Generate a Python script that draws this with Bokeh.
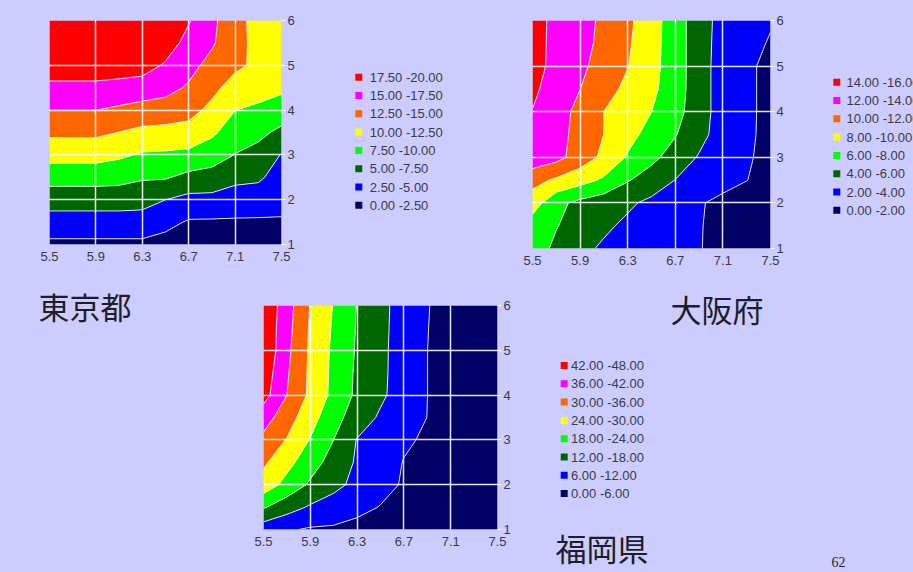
import numpy as np
from bokeh.plotting import figure
from bokeh.models import Range1d, FixedTicker, Label
from bokeh.layouts import column, row
from bokeh.embed import file_html
from bokeh.resources import INLINE
from bokeh.core.properties import value

BG = "#CCCCFF"
band_colors = ["#000066", "#0000FF", "#006600", "#00FF00", "#FFFF00", "#FF6600", "#FF00FF", "#FF0000"]

x_grid = [5.5, 5.7, 5.9, 6.1, 6.3, 6.5, 6.7, 6.9, 7.1, 7.3, 7.5]
y_grid = [1.0, 1.5, 2.0, 2.5, 3.0, 3.5, 4.0, 4.5, 5.0, 5.5, 6.0]
x_ticks = [5.5, 5.9, 6.3, 6.7, 7.1, 7.5]
y_ticks = [1, 2, 3, 4, 5, 6]

# Tokyo (rows: y = 1.0 ... 6.0, columns: x = 5.5 ... 7.5)
tokyo_levels = [0, 2.5, 5, 7.5, 10, 12.5, 15, 17.5, 20]
tokyo_labels = ["0.00 -2.50", "2.50 -5.00", "5.00 -7.50", "7.50 -10.00",
                "10.00 -12.50", "12.50 -15.00", "15.00 -17.50", "17.50 -20.00"]
tokyo_z = [
    [2.0, 2.0, 2.0, 2.0, 2.0, 1.53, 0.2, 0.1, 0.5, 0.53, 1.43],
    [3.95, 3.95, 3.95, 3.95, 3.95, 3.26, 2.25, 2.21, 2.2, 2.17, 2.29],
    [6.06, 6.06, 6.06, 6.06, 5.87, 5.01, 4.3, 4.29, 3.89, 3.82, 3.16],
    [8.49, 8.49, 8.49, 8.31, 7.77, 7.73, 6.83, 6.56, 5.62, 5.37, 4.02],
    [10.89, 10.89, 10.89, 10.41, 9.73, 9.62, 9.4, 8.64, 7.43, 6.7, 4.88],
    [12.98, 12.98, 12.98, 12.46, 11.89, 11.72, 11.61, 10.42, 8.74, 8.08, 6.95],
    [15.01, 15.01, 15.01, 14.58, 14.11, 13.95, 13.31, 11.9, 10.03, 9.53, 8.8],
    [16.92, 16.92, 16.92, 16.67, 16.34, 15.78, 14.72, 13.15, 11.52, 10.99, 10.5],
    [18.85, 18.85, 18.85, 18.75, 18.57, 17.21, 15.77, 14.24, 13.0, 12.0, 11.0],
    [19.8, 19.8, 19.8, 19.8, 19.8, 18.65, 16.73, 15.3, 13.3, 11.8, 11.3],
    [19.9, 19.9, 19.9, 19.9, 19.9, 19.9, 17.69, 15.5, 13.5, 11.5, 11.5],
]

# Osaka
osaka_levels = [0, 2, 4, 6, 8, 10, 12, 14, 16]
osaka_labels = ["0.00 -2.00", "2.00 -4.00", "4.00 -6.00", "6.00 -8.00",
                "8.00 -10.00", "10.00 -12.00", "12.00 -14.00", "14.00 -16.00"]
osaka_z = [
    [6.84, 5.64, 4.45, 3.74, 3.33, 2.91, 2.5, 2.08, 1.5, 1.2, 1.0],
    [7.0, 6.09, 5.2, 4.31, 3.66, 3.14, 2.62, 2.1, 1.5, 1.2, 1.0],
    [9.0, 6.5, 5.51, 4.89, 4.28, 3.61, 2.89, 2.18, 1.5, 1.2, 1.0],
    [10.67, 9.71, 8.76, 7.69, 6.15, 5.03, 3.97, 3.32, 2.68, 2.03, 1.4],
    [13.3, 12.6, 11.11, 9.55, 7.81, 6.52, 5.14, 3.84, 3.02, 2.2, 1.5],
    [13.2, 12.6, 11.43, 9.99, 8.62, 7.33, 6.12, 4.62, 3.1, 2.32, 1.5],
    [13.95, 12.79, 11.48, 9.99, 9.0, 8.01, 6.67, 4.89, 3.1, 2.36, 1.5],
    [14.35, 13.18, 12.02, 10.75, 9.56, 8.44, 6.91, 4.89, 3.1, 2.36, 1.5],
    [14.61, 13.5, 12.39, 11.24, 10.06, 8.64, 6.95, 4.89, 3.1, 2.36, 1.5],
    [14.56, 13.59, 12.61, 11.52, 10.25, 8.72, 6.95, 4.89, 3.2, 2.67, 1.83],
    [14.57, 13.62, 12.67, 11.64, 10.42, 8.82, 6.95, 4.89, 3.3, 2.88, 2.18],
]

# Fukuoka
fukuoka_levels = [0, 6, 12, 18, 24, 30, 36, 42, 48]
fukuoka_labels = ["0.00 -6.00", "6.00 -12.00", "12.00 -18.00", "18.00 -24.00",
                  "24.00 -30.00", "30.00 -36.00", "36.00 -42.00", "42.00 -48.00"]
fukuoka_z = [
    [8.6, 6.6, 5.4, 5.2, 4.3, 4.2, 4.0, 3.8, 3.6, 3.2, 3.0],
    [18.6, 14.6, 11.33, 9.43, 7.52, 5.8, 5.0, 4.5, 4.0, 3.3, 3.0],
    [27.5, 22.09, 17.12, 13.59, 10.47, 7.67, 5.5, 4.8, 4.2, 3.4, 3.0],
    [31.04, 25.83, 20.61, 15.6, 11.3, 8.51, 5.8, 5.0, 4.3, 3.4, 3.0],
    [34.5, 29.7, 23.71, 17.98, 11.75, 9.25, 6.75, 5.3, 4.5, 3.5, 3.0],
    [38.7, 32.7, 26.33, 20.1, 15.11, 11.2, 8.53, 5.95, 4.5, 3.5, 3.0],
    [44.28, 36.02, 28.74, 22.42, 16.84, 12.97, 9.43, 6.02, 4.5, 3.5, 3.0],
    [45.56, 36.67, 28.89, 22.62, 17.03, 13.16, 9.53, 6.02, 4.5, 3.5, 3.0],
    [47.04, 37.44, 29.05, 22.86, 17.38, 13.24, 9.53, 6.02, 4.5, 3.5, 3.0],
    [46.9, 38.0, 29.38, 23.27, 17.58, 13.37, 9.62, 6.09, 4.5, 3.5, 3.0],
    [47.1, 38.57, 29.7, 23.7, 17.79, 13.5, 9.71, 6.18, 4.5, 3.5, 3.0],
]

TICK_FONT = "Liberation Sans"
TEXT_COLOR = "#3a3a48"
TITLE_FONT = "Noto Sans CJK JP"
TITLE_COLOR = "#1e1e28"
LEGEND_STEP = 18.3


def style_bg(p):
    p.background_fill_color = BG
    p.border_fill_color = BG
    p.outline_line_color = None
    try:
        p.frame_align = False
    except Exception:
        pass


def make_plot(width, height, bl, br, bt, bb, z, levels):
    p = figure(width=width, height=height,
               x_range=Range1d(5.5, 7.5), y_range=Range1d(1, 6),
               min_border_left=bl, min_border_right=br,
               min_border_top=bt, min_border_bottom=bb,
               y_axis_location="right",
               output_backend="svg", toolbar_location=None)
    style_bg(p)
    p.contour(x=x_grid, y=y_grid, z=np.array(z), levels=levels,
              fill_color=band_colors, line_color="white",
              line_width=1, line_alpha=0.85)

    p.xaxis.ticker = FixedTicker(ticks=x_ticks)
    p.yaxis.ticker = FixedTicker(ticks=y_ticks)
    for ax in (p.xaxis, p.yaxis):
        ax.axis_line_color = None
        ax.minor_tick_line_color = None
        ax.major_label_text_font = TICK_FONT
        ax.major_label_text_font_size = "13px"
        ax.major_label_text_color = TEXT_COLOR
    p.xaxis.major_tick_line_color = None
    p.xaxis.major_tick_out = 0
    p.xaxis.major_label_standoff = 7
    p.yaxis.major_tick_line_color = "white"
    p.yaxis.major_tick_in = 0
    p.yaxis.major_tick_out = 4
    p.yaxis.major_label_standoff = 2

    for g in (p.xgrid, p.ygrid):
        g.grid_line_color = "white"
        g.grid_line_width = 1.5
        g.grid_line_alpha = 0.9
        g.level = "guide"
    return p


def blank_fig(width, height):
    p = figure(width=width, height=height,
               x_range=Range1d(0, width), y_range=Range1d(0, height),
               min_border=0, x_axis_type=None, y_axis_type=None,
               output_backend="svg", toolbar_location=None)
    style_bg(p)
    return p


def draw_legend(p, labels, sq_x, text_x, y_top):
    n = len(band_colors)
    ys = [y_top - k * LEGEND_STEP for k in range(n)]
    cols = list(reversed(band_colors))
    labs = list(reversed(labels))
    p.scatter(x=[sq_x] * n, y=ys, marker="square", size=7,
              fill_color=cols, line_color=None)
    p.text(x=[text_x] * n, y=ys, text=labs,
           text_font=value(TICK_FONT), text_font_size=value("13px"),
           text_color=TEXT_COLOR, text_baseline="middle", text_align="left")


def add_title(p, text, x, y, font=TITLE_FONT, size="31px"):
    p.add_layout(Label(x=x, y=y, text=text, text_font=font, text_font_size=size,
                       text_color=TITLE_COLOR, text_baseline="middle", text_align="left"))


# top row (height 285)
p_tokyo = make_plot(292, 285, 41, 19, 12, 49, tokyo_z, tokyo_levels)
leg_tokyo = blank_fig(220, 285)
draw_legend(leg_tokyo, tokyo_labels, 58.3, 69.3, 216.3)
p_osaka = make_plot(270, 285, 12, 20, 12, 45, osaka_z, osaka_levels)
leg_osaka = blank_fig(123, 285)
draw_legend(leg_osaka, osaka_labels, 46.3, 56.0, 211.3)

# bottom row (height 279, runs to the window's lower edge)
left_bottom = blank_fig(245, 279)
add_title(left_bottom, "東京都", 30, 267)
p_fukuoka = make_plot(264, 279, 10, 20, 12, 43, fukuoka_z, fukuoka_levels)
right_bottom = blank_fig(396, 279)
draw_legend(right_bottom, fukuoka_labels, 46.7, 53.5, 207)
add_title(right_bottom, "大阪府", 153, 264.5)
add_title(right_bottom, "福岡県", 38, 25.5)
add_title(right_bottom, "62", 314, 11, font="Liberation Serif", size="14px")

bg_style = {"background-color": BG}
top = row(p_tokyo, leg_tokyo, p_osaka, leg_osaka, styles=bg_style)
bottom = row(left_bottom, p_fukuoka, right_bottom, styles=bg_style)
layout = column(top, bottom, styles=bg_style)

page_css = ("<style>html, body {margin:0 !important; padding:0 !important; "
            "background-color:#CCCCFF !important; overflow:hidden !important; "
            "height:auto !important;} body {padding:8px !important;}</style>")
html = file_html(layout, INLINE)
if "</head>" in html:
    html = html.replace("</head>", page_css + "</head>", 1)
else:
    html = page_css + html
open("out.html", "w").write(html)
